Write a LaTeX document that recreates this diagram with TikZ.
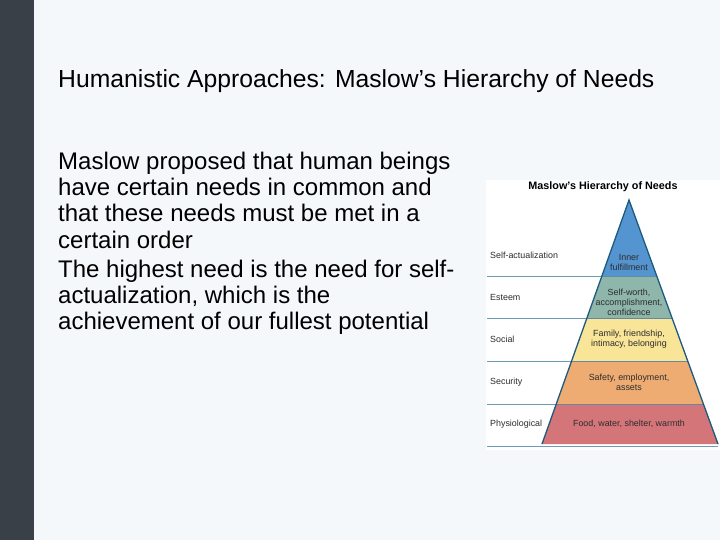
\documentclass[tikz,border=0pt]{standalone}
\usepackage{fontspec}
\setmainfont{Liberation Sans}
\definecolor{bgc}{RGB}{244,248,251}
\definecolor{barc}{RGB}{57,64,72}
\definecolor{outl}{RGB}{30,90,125}
\definecolor{hline}{RGB}{110,155,180}
\definecolor{c1}{RGB}{84,148,208}
\definecolor{c2}{RGB}{142,182,170}
\definecolor{c3}{RGB}{248,229,152}
\definecolor{c4}{RGB}{238,172,114}
\definecolor{c5}{RGB}{212,117,122}
\definecolor{lab}{RGB}{45,45,45}
\tikzset{
  bodyline/.style={anchor=base west, inner sep=0pt, font=\fontsize{24}{26}\selectfont, text=black},
  sidelab/.style={anchor=west, inner sep=0pt, font=\fontsize{8.9}{10}\selectfont, text=lab},
  inlab/.style={align=center, inner sep=0pt, font=\fontsize{8.9}{10}\selectfont, text=lab},
}
\begin{document}
\begin{tikzpicture}[x=1pt,y=-1pt]
\useasboundingbox (0,0) rectangle (720,540);
\fill[bgc] (0,0) rectangle (720,540);
\fill[barc] (0,0) rectangle (34,540);
% title
\node[bodyline, font=\fontsize{24.7}{26}\selectfont] (title) at (58,88) {Humanistic Approaches: Maslow’s Hierarchy of Needs};
% body
\node[bodyline] (l1) at (58,170) {Maslow proposed that human beings};
\node[bodyline] (l2) at (58,196) {have certain needs in common and};
\node[bodyline] (l3) at (58,222) {that these needs must be met in a};
\node[bodyline] (l4) at (58,248) {certain order};
\node[bodyline] (l5) at (58,277) {The highest need is the need for self-};
\node[bodyline] (l6) at (58,303) {actualization, which is the};
\node[bodyline] (l7) at (58,329) {achievement of our fullest potential};
% image panel
\fill[white] (486,180) rectangle (720,450);
\node[inner sep=0pt, font=\fontsize{10.8}{12}\bfseries, anchor=base] (ptitle) at (603,190) {Maslow’s Hierarchy of Needs};
% bands
\coordinate (apex) at (629,200);
\fill[c1] (apex) -- (656.7,276) -- (601.9,276) -- cycle;
\fill[c2] (601.9,276) -- (656.7,276) -- (672.0,318) -- (586.9,318) -- cycle;
\fill[c3] (586.9,318) -- (672.0,318) -- (687.7,361) -- (571.6,361) -- cycle;
\fill[c4] (571.6,361) -- (687.7,361) -- (703.4,404) -- (556.3,404) -- cycle;
\fill[c5] (556.3,404) -- (703.4,404) -- (718,444) -- (542,444) -- cycle;
% horizontal lines
\draw[hline, line width=0.7pt] (487,276) -- (601.9,276);
\draw[hline, line width=0.7pt] (487,318) -- (586.9,318);
\draw[hline, line width=0.7pt] (487,361) -- (571.6,361);
\draw[hline, line width=0.7pt] (487,404) -- (556.3,404);
\draw[hline, line width=0.7pt] (487,446) -- (718,446);
\draw[outl!70, line width=0.5pt] (601.9,276) -- (656.7,276);
\draw[outl!70, line width=0.5pt] (586.9,318) -- (672.0,318);
\draw[outl!70, line width=0.5pt] (571.6,361) -- (687.7,361);
\draw[outl!70, line width=0.5pt] (556.3,404) -- (703.4,404);
\draw[outl, line width=1.3pt, line join=miter] (542,444) -- (apex) -- (718,444);
% side labels
\node[sidelab] (sa) at (490,255) {Self-actualization};
\node[sidelab] (es) at (490,297) {Esteem};
\node[sidelab] (so) at (490,339) {Social};
\node[sidelab] (se) at (490,382) {Security};
\node[sidelab] (ph) at (490,424) {Physiological};
% inner labels
\node[inlab] (i1) at (629,262) {Inner\\fulfillment};
\node[inlab] (i2) at (629,302) {Self-worth,\\accomplishment,\\confidence};
\node[inlab] (i3) at (629,339) {Family, friendship,\\intimacy, belonging};
\node[inlab] (i4) at (629,382) {Safety, employment,\\assets};
\node[inlab] (i5) at (629,424) {Food, water, shelter, warmth};
\end{tikzpicture}
\end{document}
